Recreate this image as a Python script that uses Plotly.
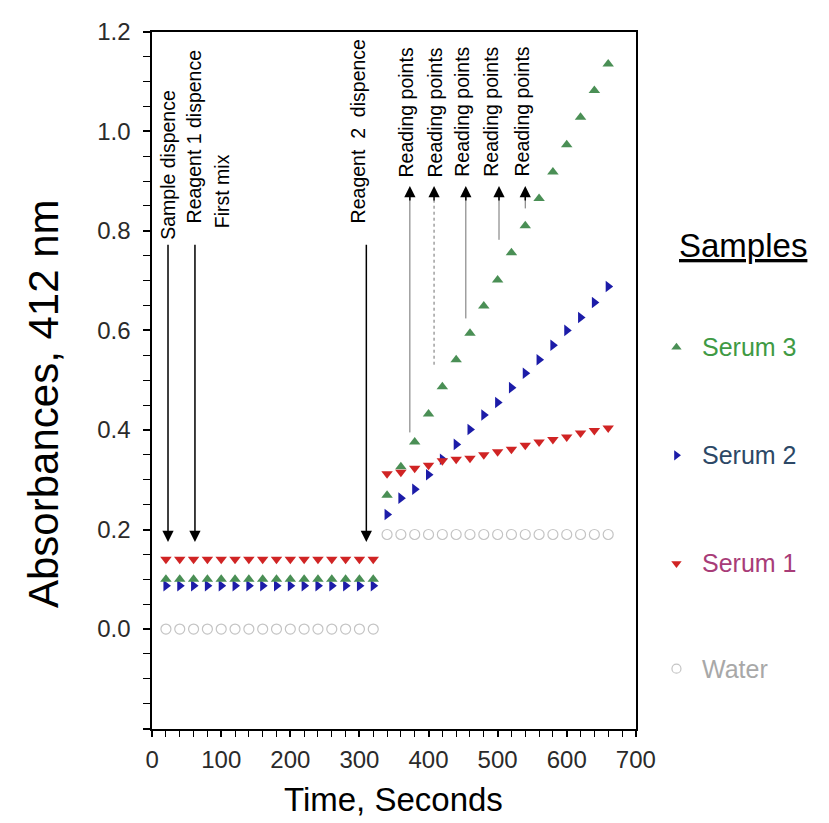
import plotly.graph_objects as go

# ---------------- data ----------------
time_s = [20, 40, 60, 80, 100, 120, 140, 160, 180, 200, 220, 240, 260, 280, 300, 320,
          340, 360, 380, 400, 420, 440, 460, 480, 500, 520, 540, 560, 580, 600, 620, 640, 660]

serum3 = [0.100, 0.100, 0.100, 0.100, 0.100, 0.100, 0.100, 0.100, 0.100, 0.100, 0.100, 0.100,
          0.100, 0.100, 0.100, 0.100,
          0.269, 0.326, 0.376, 0.432, 0.487, 0.541, 0.594, 0.649, 0.701, 0.756, 0.810, 0.865,
          0.918, 0.973, 1.028, 1.082, 1.135]
serum2 = [0.087, 0.087, 0.087, 0.087, 0.087, 0.087, 0.087, 0.087, 0.087, 0.087, 0.087, 0.087,
          0.087, 0.087, 0.087, 0.087,
          0.230, 0.263, 0.281, 0.310, 0.341, 0.371, 0.401, 0.430, 0.455, 0.485, 0.514, 0.541,
          0.570, 0.600, 0.626, 0.656, 0.688]
serum1 = [0.140, 0.140, 0.140, 0.140, 0.140, 0.140, 0.140, 0.140, 0.140, 0.140, 0.140, 0.140,
          0.140, 0.140, 0.140, 0.140,
          0.312, 0.315, 0.323, 0.329, 0.338, 0.341, 0.343, 0.350, 0.356, 0.361, 0.369, 0.376,
          0.381, 0.386, 0.394, 0.399, 0.404]
water = [0.0, 0.0, 0.0, 0.0, 0.0, 0.0, 0.0, 0.0, 0.0, 0.0, 0.0, 0.0, 0.0, 0.0, 0.0, 0.0,
         0.19, 0.19, 0.19, 0.19, 0.19, 0.19, 0.19, 0.19, 0.19, 0.19, 0.19, 0.19, 0.19, 0.19,
         0.19, 0.19, 0.19]

series_names = ["Serum 3", "Serum 2", "Serum 1", "Water"]

x_tick_vals = [0, 100, 200, 300, 400, 500, 600, 700]
y_tick_vals = [-0.2, 0.0, 0.2, 0.4, 0.6, 0.8, 1.0, 1.2]
y_tick_text = ["", "0.0", "0.2", "0.4", "0.6", "0.8", "1.0", "1.2"]

event_labels = ["Sample dispence", "Reagent 1 dispence", "First mix", "Reagent  2  dispence"]
reading_label = "Reading points"

# ---------------- styles ----------------
FONT = "Liberation Sans, Arial, sans-serif"
W, H = 829, 823
L, R, T, B = 150, 650, 18, 727
xdom = [L / W, R / W]
ydom = [1 - B / H, 1 - T / H]

styles = {
    "Serum 3": dict(symbol="triangle-up", color="#4a8f55", text="#3f9a44"),
    "Serum 2": dict(symbol="triangle-right", color="#1c1ca8", text="#2c4866"),
    "Serum 1": dict(symbol="triangle-down", color="#d02424", text="#a83c78"),
    "Water": dict(symbol="circle-open", color="#c4c4c4", text="#a8a8a8"),
}
values = {"Serum 3": serum3, "Serum 2": serum2, "Serum 1": serum1, "Water": water}

fig = go.Figure()
for name in ["Water", "Serum 2", "Serum 3", "Serum 1"]:
    st = styles[name]
    fig.add_trace(go.Scatter(
        x=time_s, y=values[name], mode="markers", name=name, showlegend=False,
        marker=dict(symbol=st["symbol"], color=st["color"], size=10,
                    line=dict(width=1.2 if name == "Water" else 0, color=st["color"])),
    ))

# manual legend (markers on a pixel-scaled overlay axis)
legend_y = [339, 449, 559, 666]
legend_marker_x = 692
legend_text_x = 716
for name, ly in zip(series_names, legend_y):
    st = styles[name]
    fig.add_trace(go.Scatter(
        x=[legend_marker_x], y=[ly], xaxis="x2", yaxis="y2", mode="markers",
        showlegend=False, hoverinfo="skip",
        marker=dict(symbol=st["symbol"], color=st["color"], size=9,
                    line=dict(width=1.2 if name == "Water" else 0, color=st["color"])),
    ))

annotations = []
annotations.append(dict(xref="x2", yref="y2", x=693, y=236, text="<u>Samples</u>",
                        showarrow=False, font=dict(family=FONT, size=33, color="black"),
                        xanchor="left", yanchor="middle"))
for name, ly in zip(series_names, legend_y):
    annotations.append(dict(xref="x2", yref="y2", x=legend_text_x, y=ly, text=name,
                            showarrow=False,
                            font=dict(family=FONT, size=25, color=styles[name]["text"]),
                            xanchor="left", yanchor="middle"))

# axis titles
annotations.append(dict(xref="x2", yref="y2", x=38, y=396, text="Absorbances, 412 nm",
                        textangle=-90, showarrow=False, xanchor="center", yanchor="middle",
                        font=dict(family=FONT, size=42, color="black")))
annotations.append(dict(xref="x2", yref="y2", x=400, y=799, text="Time, Seconds",
                        showarrow=False, xanchor="center", yanchor="middle",
                        font=dict(family=FONT, size=33, color="black")))

# event labels (rotated)
event_x = [23, 60, 101, 298]
event_ybottom = [0.778, 0.811, 0.801, 0.811]
for lab, ex, ey in zip(event_labels, event_x, event_ybottom):
    annotations.append(dict(x=ex, y=ey, text=lab, textangle=-90, showarrow=False,
                            xanchor="center", yanchor="bottom",
                            font=dict(family=FONT, size=19.5, color="black")))

# downward arrows
arrow_x = [23, 62, 310]
for axv in arrow_x:
    annotations.append(dict(x=axv, y=0.175, ax=axv, ay=0.775, axref="x", ayref="y",
                            text="", showarrow=True, arrowhead=2, arrowsize=1.5,
                            arrowwidth=1.5, arrowcolor="black", standoff=0))

# reading points labels
read_text_x = [368, 410, 448, 490, 536]
for rx in read_text_x:
    annotations.append(dict(x=rx, y=0.904, text=reading_label, textangle=-90, showarrow=False,
                            xanchor="center", yanchor="bottom",
                            font=dict(family=FONT, size=19.5, color="black")))

# reading points arrows: gray line + black head
read_line_x = [373, 408, 454, 502, 540]
read_line_bottom = [0.395, 0.531, 0.624, 0.782, 0.845]
read_dash = ["solid", "dot", "solid", "solid", "solid"]
shapes = []
for rx, rb, dsh in zip(read_line_x, read_line_bottom, read_dash):
    shapes.append(dict(type="line", xref="x", yref="y", x0=rx, x1=rx, y0=rb, y1=0.875,
                       line=dict(color="#707070", width=1, dash=dsh)))
    annotations.append(dict(x=rx, y=0.890, ax=0, ay=16, text="", showarrow=True,
                            arrowhead=2, arrowsize=1.5, arrowwidth=1.5,
                            arrowcolor="black", standoff=0))

fig.update_layout(
    width=W, height=H,
    margin=dict(l=0, r=0, t=0, b=0),
    paper_bgcolor="white", plot_bgcolor="rgba(0,0,0,0)",
    font=dict(family=FONT),
    showlegend=False,
    xaxis=dict(domain=xdom, range=[0, 700], tickvals=x_tick_vals,
               ticks="outside", ticklen=7, tickwidth=1.5, tickcolor="black",
               minor=dict(dtick=20, tick0=0, ticks="outside", ticklen=7, tickwidth=1.2,
                          tickcolor="black"),
               showline=True, linecolor="black", linewidth=1.5, mirror=True,
               showgrid=False, zeroline=False,
               tickfont=dict(family=FONT, size=24, color="#2a2a2a"),
               ticklabelstandoff=2),
    yaxis=dict(domain=ydom, range=[-0.2, 1.2], tickvals=y_tick_vals, ticktext=y_tick_text,
               ticks="outside", ticklen=7, tickwidth=1.5, tickcolor="black",
               minor=dict(dtick=0.05, tick0=0, ticks="outside", ticklen=7, tickwidth=1.2,
                          tickcolor="black"),
               showline=True, linecolor="black", linewidth=1.5, mirror=True,
               showgrid=False, zeroline=False,
               tickfont=dict(family=FONT, size=24, color="#2a2a2a"),
               ticklabelstandoff=8),
    xaxis2=dict(domain=[0, 1], range=[0, W], visible=False, anchor="y2"),
    yaxis2=dict(domain=[0, 1], range=[H, 0], visible=False, anchor="x2"),
    annotations=annotations,
    shapes=shapes,
)

fig.write_html("out.html")
